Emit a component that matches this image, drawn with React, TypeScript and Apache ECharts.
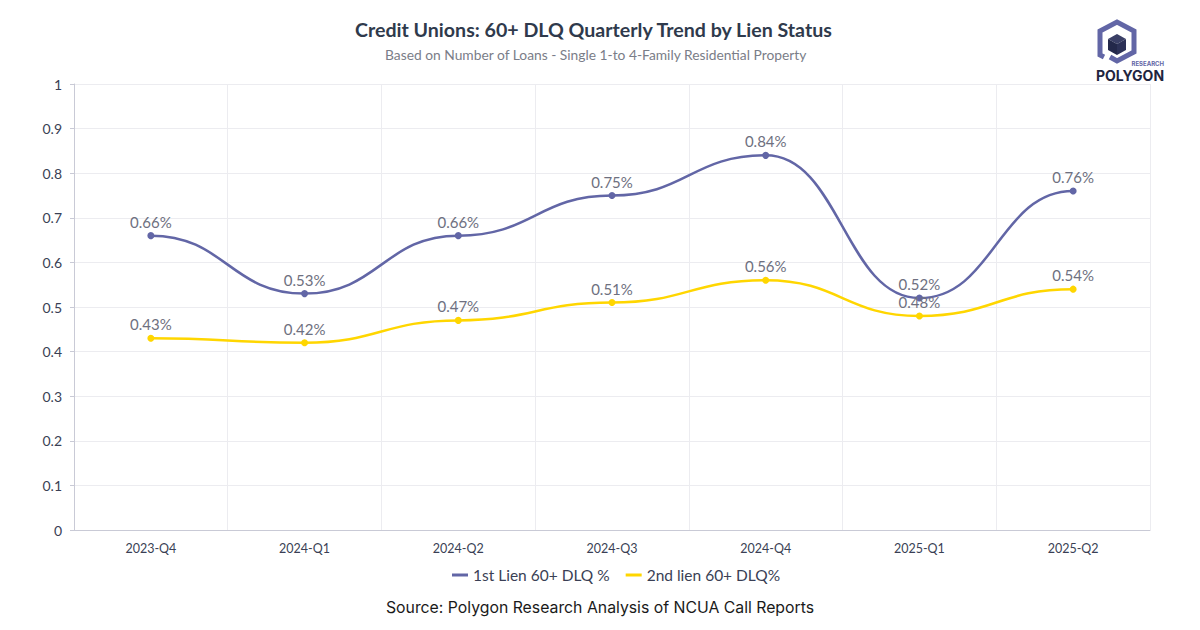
import React, { useEffect, useRef } from "react";
import * as echarts from "echarts";

const categories = ["2023-Q4", "2024-Q1", "2024-Q2", "2024-Q3", "2024-Q4", "2025-Q1", "2025-Q2"];
const firstLien = [0.66, 0.53, 0.66, 0.75, 0.84, 0.52, 0.76];
const secondLien = [0.43, 0.42, 0.47, 0.51, 0.56, 0.48, 0.54];
const seriesNames = ["1st Lien 60+ DLQ %", "2nd lien 60+ DLQ%"];

const BLUE = "#6266a6";
const YELLOW = "#ffd600";

function curveSeries(values: number[], color: string, id: string) {
  return {
    id,
    type: "custom",
    silent: true,
    z: 1,
    data: values.map((v, i) => [i, v]),
    encode: { x: 0, y: 1 },
    renderItem: (params: any, api: any) => {
      if (params.dataIndex !== 0) return null;
      const pts = values.map((v, i) => api.coord([i, v]));
      let d = `M${pts[0][0]},${pts[0][1]}`;
      for (let i = 1; i < pts.length; i++) {
        const [x0, y0] = pts[i - 1];
        const [x1, y1] = pts[i];
        const k = 0.48 * (x1 - x0);
        d += ` C${x0 + k},${y0} ${x1 - k},${y1} ${x1},${y1}`;
      }
      return {
        type: "path",
        shape: { pathData: d },
        style: { fill: "none", stroke: color, lineWidth: 2.5 },
      };
    },
  };
}

export default function App() {
  const ref = useRef<HTMLDivElement>(null);
  useEffect(() => {
    if (!ref.current) return;
    const chart = echarts.init(ref.current, undefined, { renderer: "svg" });
    const labelCfg = {
      show: true,
      position: "top",
      distance: 3,
      formatter: (p: any) => `${p.value}%`,
      color: "#6e7080",
      fontFamily: "Lato",
      fontSize: 15,
    };
    chart.setOption({
      animation: false,
      backgroundColor: "#ffffff",
      title: [
        {
          text: "Credit Unions: 60+ DLQ Quarterly Trend by Lien Status",
          left: 350,
          top: 14,
          textStyle: { fontFamily: "Lato", fontSize: 19.6, fontWeight: "bold", color: "#2f3a4c" },
        },
        {
          text: "Based on Number of Loans - Single 1-to 4-Family Residential Property",
          left: 380,
          top: 42,
          textStyle: { fontFamily: "Lato", fontSize: 13.8, fontWeight: "normal", color: "#7a7d88" },
        },
      ],
      legend: {
        bottom: 42,
        left: 447,
        icon: "rect",
        itemWidth: 16,
        itemHeight: 3,
        itemGap: 16,
        textStyle: { fontFamily: "Lato", fontSize: 15.5, color: "#3a3f55" },
        data: [
          { name: seriesNames[0], itemStyle: { color: BLUE } },
          { name: seriesNames[1], itemStyle: { color: YELLOW } },
        ],
      },
      grid: { left: 74, right: 50, top: 84, bottom: 100 },
      xAxis: {
        type: "category",
        data: categories,
        boundaryGap: true,
        axisLine: { lineStyle: { color: "#c9cad6" } },
        axisTick: { alignWithLabel: true, lineStyle: { color: "#c9cad6" }, length: 5 },
        axisLabel: { fontFamily: "Lato", fontSize: 12.5, color: "#3a3f55", margin: 12 },
        splitLine: { show: true, lineStyle: { color: "#ececf0" } },
      },
      yAxis: {
        type: "value",
        min: 0,
        max: 1,
        interval: 0.1,
        axisLine: { show: true, lineStyle: { color: "#c9cad6" } },
        axisTick: { show: true, length: 4, lineStyle: { color: "#c9cad6" } },
        axisLabel: { fontFamily: "Lato", fontSize: 14, color: "#3a3f55", margin: 12 },
        splitLine: { lineStyle: { color: "#ececf0" } },
      },
      series: [
        curveSeries(firstLien, BLUE, "curve1"),
        curveSeries(secondLien, YELLOW, "curve2"),
        {
          name: seriesNames[0],
          type: "line",
          z: 3,
          data: firstLien,
          symbol: "circle",
          symbolSize: 7,
          itemStyle: { color: BLUE },
          lineStyle: { color: BLUE, width: 2.5, opacity: 0 },
          label: labelCfg,
        },
        {
          name: seriesNames[1],
          type: "line",
          z: 3,
          data: secondLien,
          symbol: "circle",
          symbolSize: 7,
          itemStyle: { color: YELLOW },
          lineStyle: { color: YELLOW, width: 2.5, opacity: 0 },
          label: labelCfg,
        },
      ],
      graphic: [
        {
          type: "text",
          left: "center",
          top: 599,
          style: {
            text: "Source: Polygon Research Analysis of NCUA Call Reports",
            fontFamily: "Inter",
            fontSize: 15.8,
            fill: "#1a1a1a",
          },
        },
        {
          type: "polyline",
          shape: {
            points: [
              [1104, 57],
              [1100, 55],
              [1100, 31],
              [1117, 22],
              [1134, 31],
              [1134, 52],
              [1117, 61],
              [1110, 57],
            ],
          },
          style: { stroke: BLUE, lineWidth: 5, fill: "none", lineJoin: "miter" },
        },
        {
          type: "polygon",
          shape: { points: [[1117, 34], [1126, 39], [1117, 44], [1108, 39]] },
          style: { fill: "#3a3f66" },
        },
        {
          type: "polygon",
          shape: { points: [[1108, 39], [1117, 44], [1117, 55], [1108, 50]] },
          style: { fill: "#23284a" },
        },
        {
          type: "polygon",
          shape: { points: [[1117, 44], [1126, 39], [1126, 50], [1117, 55]] },
          style: { fill: "#2c3157" },
        },
        {
          type: "text",
          x: 1164,
          y: 60,
          style: {
            text: "RESEARCH",
            align: "right",
            fontFamily: "Inter",
            fontSize: 6,
            fontWeight: "bold",
            fill: "#6266a6",
          },
        },
        {
          type: "text",
          x: 1130,
          y: 68,
          style: {
            text: "POLYGON",
            align: "center",
            fontFamily: "Inter",
            fontSize: 14,
            fontWeight: "bold",
            fill: "#1f2540",
          },
        },
      ],
    });
    return () => chart.dispose();
  }, []);
  return <div ref={ref} style={{ width: 1200, height: 630, position: "absolute", left: 0, top: 0 }} />;
}
